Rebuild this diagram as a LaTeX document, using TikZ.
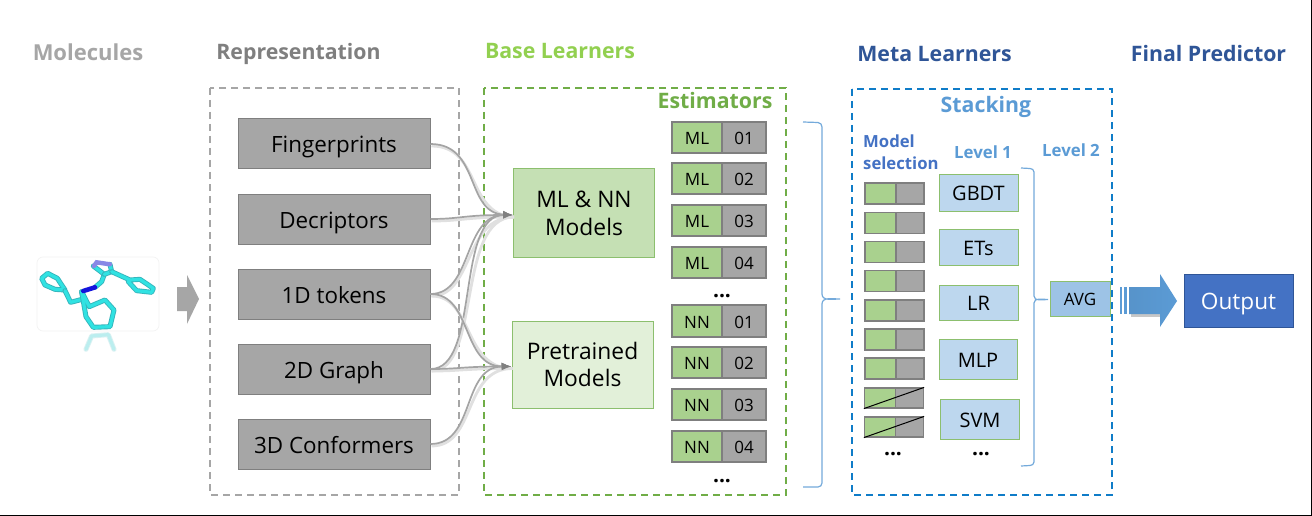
\documentclass[tikz,border=0pt]{standalone}
\usepackage{fontspec}
\setmainfont{Open Sans}
\usetikzlibrary{calc,arrows.meta}
\definecolor{boxgrey}{HTML}{A6A6A6}
\definecolor{boxedge}{HTML}{7F7F7F}
\definecolor{mlgreen}{HTML}{A9D18E}
\definecolor{modelA}{HTML}{C5E0B4}
\definecolor{modelB}{HTML}{E2F0D9}
\definecolor{edgegreen}{HTML}{8CBF6E}
\definecolor{lvl}{HTML}{BDD7EE}
\definecolor{avgfill}{HTML}{9DC3E6}
\definecolor{dashgreen}{HTML}{70AD47}
\definecolor{dashblue}{HTML}{0F7CC8}
\definecolor{headblue}{HTML}{2F5597}
\definecolor{skyblue}{HTML}{5B9BD5}
\definecolor{midblue}{HTML}{4472C4}
\definecolor{connc}{HTML}{A4A4A4}
\definecolor{molc}{HTML}{30E2E2}
\definecolor{moledge}{HTML}{35B5BC}
\newcommand{\fs}[1]{\fontsize{#1}{#1}\selectfont}
\tikzset{
  head/.style={font=\fs{21.3}\bfseries, inner sep=0pt, anchor=center, text height=15.2pt, text depth=0pt},
  dashbox/.style={dashed, dash pattern=on 7pt off 5pt, line width=1.6pt},
  repbox/.style={draw=boxedge, fill=boxgrey, line width=1pt, font=\fs{22.4}, text=black, text height=18pt, text depth=0pt},
  modelbox/.style={draw=edgegreen, line width=1pt, font=\fs{22.8}, align=center, text=black},
  cellL/.style={draw=boxedge, fill=mlgreen, line width=1.2pt, font=\fs{17}, text=black, text height=14pt, text depth=0pt},
  cellR/.style={draw=boxedge, fill=boxgrey, line width=1.2pt, font=\fs{17}, text=black, text height=14pt, text depth=0pt},
  barL/.style={draw=boxedge, fill=mlgreen, line width=1.2pt},
  barR/.style={draw=boxedge, fill=boxgrey, line width=1.2pt},
  lvlbox/.style={draw=edgegreen, fill=lvl, line width=1pt, font=\fs{20}, text=black, text height=16pt, text depth=0pt},
  conn/.style={draw=connc, line width=1.7pt, -{Latex[length=10pt,width=8pt,color=black!50]},
     preaction={draw=black!12, line width=2.8pt, -, transform canvas={shift={(1pt,-2pt)}}}},
  brace/.style={draw=skyblue!85, line width=1.2pt},
  bondc/.style={draw=molc, line width=3.2pt, line join=round, line cap=round,
     preaction={draw=moledge, line width=5pt, line join=round, line cap=round}},
  dotsn/.style={font=\fs{21}\bfseries, inner sep=0pt},
}
\begin{document}
\begin{tikzpicture}[x=1pt,y=-1pt]
\useasboundingbox (0,0) rectangle (1312,516);
\fill[white] (0,0) rectangle (1312,516);
\draw[black, line width=1.4pt] (0,515.3) -- (1311.3,515.3) -- (1311.3,0);

% headings
\node[head, text=boxgrey, font=\fs{22}\bfseries] at (88,53) {Molecules};
\node[head, text=boxedge] at (298.5,52) {Representation};
\node[head, text={rgb,255:red,146;green,208;blue,80}] at (560,51) {Base Learners};
\node[head, text=headblue] at (934.5,54) {Meta Learners};
\node[head, text=headblue] at (1208.5,54) {Final Predictor};
\node[head, text=dashgreen] at (715,101) {Estimators};
\node[head, text=skyblue] at (986,105) {Stacking};
\node[font=\fs{16.7}\bfseries, text=midblue, inner sep=0pt, anchor=base west] at (863,147) {Model};
\node[font=\fs{16.7}\bfseries, text=midblue, inner sep=0pt, anchor=base west] at (863,169) {selection};
\node[font=\fs{16.8}\bfseries, text=skyblue, inner sep=0pt, anchor=base] at (983,158) {Level 1};
\node[font=\fs{16.8}\bfseries, text=skyblue, inner sep=0pt, anchor=base] at (1071,157) {Level 2};

% dashed frames
\draw[dashbox, draw=boxgrey] (210,88) rectangle (459,495);
\draw[dashbox, draw=dashgreen] (484,88) rectangle (786,495);
\draw[dashbox, draw=dashblue] (852,89) rectangle (1112,495);

% molecule
\draw[black!5, line width=.6pt, rounded corners=6pt] (37,257) rectangle (159,331);
\begin{scope}[shift={(0,230)}, x=.3333pt, y=-.3333pt]
  \begin{scope}[opacity=.18]
    \draw[bondc] (258,358) -- (275,318) -- (325,314) -- (342,358);
  \end{scope}
  \draw[bondc] (125,145) -- (143,130) -- (172,145) -- (195,180) -- (165,178) -- (135,165) -- cycle;
  \draw[bondc] (195,182) -- (212,217) -- (250,207) -- (245,185);
  \draw[bondc] (245,185) -- (268,230) -- (315,210) -- (342,240) -- (330,290) -- (280,292) -- (258,260) -- cycle;
  \draw[bondc] (285,172) -- (305,155) -- (313,133) -- (280,108);
  \draw[bondc] (313,133) -- (335,125) -- (330,103);
  \draw[bondc] (335,125) -- (390,150) -- (420,148) -- (460,175) -- (455,187) -- (410,182) -- (385,155);
  \draw[draw={rgb,255:red,136;green,136;blue,230}, line width=4.4pt, line cap=round] (282,108) -- (290,97) -- (330,103);
  \draw[draw={rgb,255:red,20;green,20;blue,220}, line width=4.6pt, line cap=round] (250,183) -- (285,172);
\end{scope}
\fill[boxgrey] (177,287) -- (187,287) -- (187,275) -- (199,299) -- (187,324) -- (187,311) -- (177,311) -- cycle;

% representation
\node[repbox, minimum width=192pt, minimum height=50pt] (fp) at (334,144) {Fingerprints};
\node[repbox, minimum width=192pt, minimum height=50pt] (dc) at (334,219) {Decriptors};
\node[repbox, minimum width=192pt, minimum height=50pt] (t1) at (334,294) {1D tokens};
\node[repbox, minimum width=192pt, minimum height=50pt] (g2) at (334,369) {2D Graph};
\node[repbox, minimum width=192pt, minimum height=50pt] (c3) at (334,444) {3D Conformers};

% models
\node[modelbox, fill=modelA, minimum width=141pt, minimum height=88pt] (ml) at (584,213) {ML \& NN\\[5pt]Models};
\node[modelbox, fill=modelB, minimum width=141pt, minimum height=87pt] (pre) at (582.5,364.5) {Pretrained\\[5pt]Models};

% connectors
\draw[conn] (fp.east) .. controls +(50,0) and +(-48,-2) .. ([yshift=-2pt]ml.west);
\draw[conn] (dc.east) .. controls +(30,0) and +(-50,0) .. ([yshift=-2pt]ml.west);
\draw[conn] (t1.east) .. controls +(42,0) and +(-50,0) .. ([yshift=-2pt]ml.west);
\draw[conn] (g2.east) .. controls +(50,0) and +(-58,0) .. ([yshift=-2pt]ml.west);
\draw[conn] (t1.east) .. controls +(42,0) and +(-50,0) .. ([yshift=-2pt]pre.west);
\draw[conn] (g2.east) .. controls +(30,0) and +(-50,0) .. ([yshift=-2pt]pre.west);
\draw[conn] (c3.east) .. controls +(45,0) and +(-50,0) .. ([yshift=-2pt]pre.west);

% estimators
\foreach \tag/\num/\yy/\hh in {ML/01/137.5/31, ML/02/178.5/31, ML/03/220.5/31, ML/04/262.5/31,
                          NN/01/321/32, NN/02/362.5/31, NN/03/404.5/31, NN/04/446.5/31}{
  \node[cellL, minimum width=50pt, minimum height=\hh pt, inner sep=0pt] (e\tag\num L) at (697,\yy) {\tag};
  \node[cellR, minimum width=44pt, minimum height=\hh pt, inner sep=0pt] (e\tag\num R) at (744,\yy) {\num};
}
\node[dotsn] (dotsA) at (722,296) {...};
\node[dotsn] (dotsB) at (722,481) {...};

% brace 1
\draw[brace] (803,122) -- (818,122.5) to[out=0,in=90] (822,127) -- (822,294) to[out=-90,in=180] (840,299) to[out=180,in=90] (822,304) -- (822,483) to[out=-90,in=0] (818,487) -- (803,487);

% selection bars
\foreach \n/\yy in {1/193.5, 2/223, 3/252, 4/281, 5/310.5, 6/339.5, 7/368.5}{
  \node[barL, minimum width=31pt, minimum height=21pt, inner sep=0pt] (sL\n) at (880.5,\yy) {};
  \node[barR, minimum width=28pt, minimum height=21pt, inner sep=0pt] (sR\n) at (910,\yy) {};
}
\foreach \n/\yy in {8/398, 9/427}{
  \node[barL, minimum width=31pt, minimum height=20pt, inner sep=0pt] (sL\n) at (880,\yy) {};
  \node[barR, minimum width=28pt, minimum height=20pt, inner sep=0pt] (sR\n) at (909.5,\yy) {};
  \draw[black, line width=1pt] (sL\n.south west) -- (sR\n.north east);
}
\node[dotsn] (dotsC) at (893,454) {...};
\node[dotsn] (dotsD) at (981,454) {...};

% level 1
\node[lvlbox, minimum width=79pt, minimum height=37pt, inner sep=0pt] (gbdt) at (978.5,192.5) {GBDT};
\node[lvlbox, minimum width=79pt, minimum height=36pt, inner sep=0pt] (ets) at (978.5,247) {ETs};
\node[lvlbox, minimum width=79pt, minimum height=35pt, inner sep=0pt] (lr) at (978.5,302.5) {LR};
\node[lvlbox, minimum width=78pt, minimum height=40pt, inner sep=0pt] (mlp) at (978,359) {MLP};
\node[lvlbox, minimum width=79pt, minimum height=40pt, inner sep=0pt] (svm) at (980,419) {SVM};

% brace 2
\draw[brace] (1021,168) -- (1030,168.5) to[out=0,in=90] (1034,172) -- (1034,296) to[out=-90,in=180] (1048,299.5) to[out=180,in=90] (1034,303) -- (1034,462) to[out=-90,in=0] (1030,465.5) -- (1021,466);

% avg
\node[draw=edgegreen, fill=avgfill, line width=1pt, font=\fs{17}, text=black, text height=14pt, text depth=0pt, minimum width=60pt, minimum height=35pt, inner sep=0pt] (avg) at (1080,298.5) {AVG};

% big arrow
\fill[black!22] (1131,290) -- (1163,290) -- (1163,317) -- (1131,317) -- cycle;
\fill[skyblue] (1120,287) rectangle (1122,314);
\fill[skyblue] (1124,287) rectangle (1127,314);
\shade[left color=skyblue!95!black, right color=skyblue] (1129,287) -- (1160,287) -- (1160,274) -- (1177,301) -- (1160,327) -- (1160,314) -- (1129,314) -- cycle;

% output
\node[draw=headblue, fill=midblue, line width=1pt, font=\fs{22.6}, text=white, text height=18.5pt, text depth=0pt, minimum width=109pt, minimum height=53pt, inner sep=0pt] (out) at (1238.5,300.5) {Output};
\end{tikzpicture}
\end{document}
